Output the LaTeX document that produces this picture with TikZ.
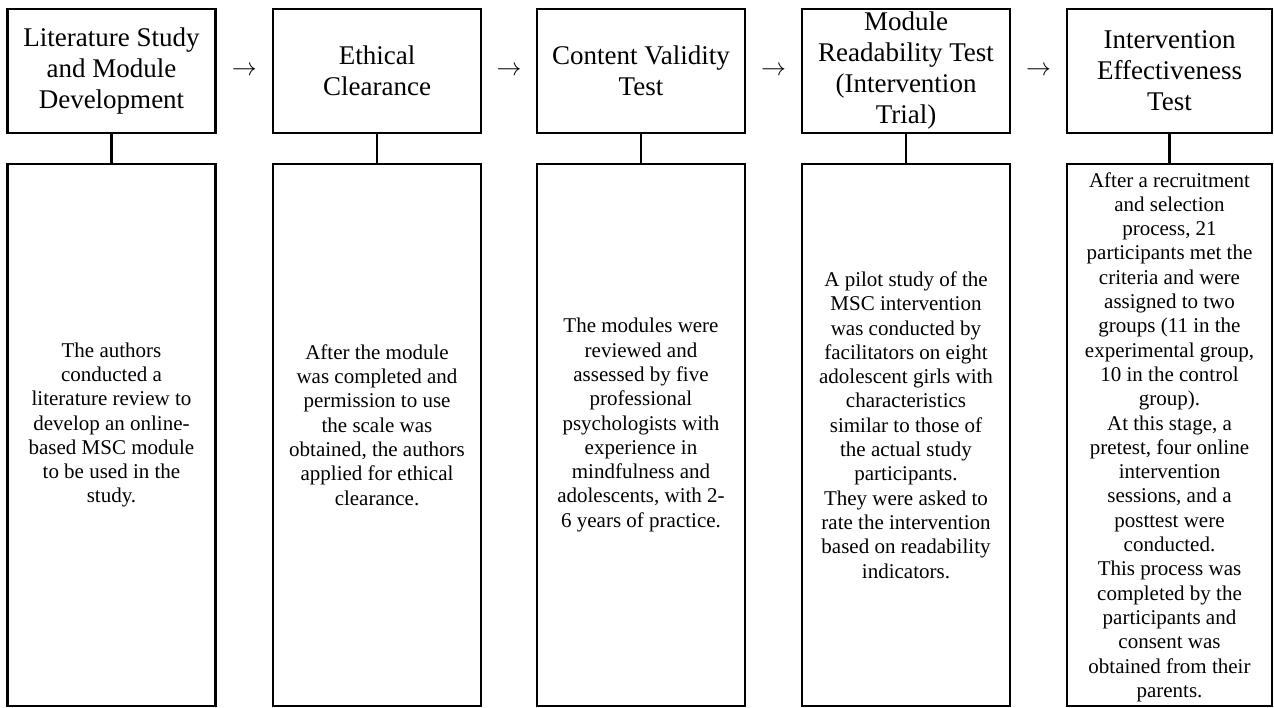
\documentclass[tikz,border=0pt]{standalone}
\usepackage{fontspec}
\setmainfont{Liberation Serif}
\begin{document}
\begin{tikzpicture}
[x=1pt,y=-1pt,
  stepdecorate/.style={shape=rectangle,draw,line width=2.2pt,inner sep=0pt,%
    minimum width=208pt,minimum height=124pt,align=center,%
    font=\fontsize{27}{31}\selectfont},
  descdecorate/.style={shape=rectangle,draw,line width=2.2pt,inner sep=0pt,%
    minimum width=208pt,minimum height=542pt},
  textdecorate/.style={align=center,inner sep=0pt,%
    font=\fontsize{21}{24.3}\selectfont},
  arrowdecorate/.style={inner sep=0pt,font=\fontsize{25}{25}\selectfont},
  linedecorate/.style={-,line width=2.2pt}]
\useasboundingbox (0,0) rectangle (1274,707);
% step boxes
\node (s1) at (111.5,71) [stepdecorate] {Literature Study\\and Module\\Development};
\node (s2) at (377,71) [stepdecorate] {Ethical\\Clearance};
\node (s3) at (641,71) [stepdecorate] {Content Validity\\Test};
\node (s4) at (906,71) [stepdecorate] {Module\\Readability Test\\(Intervention\\Trial)};
\node (s5) at (1169.5,71) [stepdecorate,minimum width=205pt] {Intervention\\Effectiveness\\Test};
% description boxes
\node (d1) at (111.5,435) [descdecorate] {};
\node (d2) at (377,435) [descdecorate] {};
\node (d3) at (641,435) [descdecorate] {};
\node (d4) at (906,435) [descdecorate] {};
\node (d5) at (1169.5,435) [descdecorate,minimum width=205pt] {};
% description texts
\node (p1) at ([yshift=10pt]d1.center) [textdecorate] {The authors\\conducted a\\literature review to\\develop an online-\\based MSC module\\to be used in the\\study.};
\node (p2) at ([yshift=10pt]d2.center) [textdecorate] {After the module\\was completed and\\permission to use\\the scale was\\obtained, the authors\\applied for ethical\\clearance.};
\node (p3) at ([yshift=10pt]d3.center) [textdecorate] {The modules were\\reviewed and\\assessed by five\\professional\\psychologists with\\experience in\\mindfulness and\\adolescents, with 2-\\6 years of practice.};
\node (p4) at ([yshift=10pt]d4.center) [textdecorate] {A pilot study of the\\MSC intervention\\was conducted by\\facilitators on eight\\adolescent girls with\\characteristics\\similar to those of\\the actual study\\participants.\\They were asked to\\rate the intervention\\based on readability\\indicators.};
\node (p5) at ([yshift=-2pt]d5.center) [textdecorate] {After a recruitment\\and selection\\process, 21\\participants met the\\criteria and were\\assigned to two\\groups (11 in the\\experimental group,\\10 in the control\\group).\\At this stage, a\\pretest, four online\\intervention\\sessions, and a\\posttest were\\conducted.\\This process was\\completed by the\\participants and\\consent was\\obtained from their\\parents.};
% arrows between steps
\path
(s1) -- node[arrowdecorate]{$\rightarrow$} (s2)
(s2) -- node[arrowdecorate]{$\rightarrow$} (s3)
(s3) -- node[arrowdecorate]{$\rightarrow$} (s4)
(s4) -- node[arrowdecorate]{$\rightarrow$} (s5);
% links from steps to descriptions
\path
(s1) edge[linedecorate] (d1)
(s2) edge[linedecorate] (d2)
(s3) edge[linedecorate] (d3)
(s4) edge[linedecorate] (d4)
(s5) edge[linedecorate] (d5);
\end{tikzpicture}
\end{document}
